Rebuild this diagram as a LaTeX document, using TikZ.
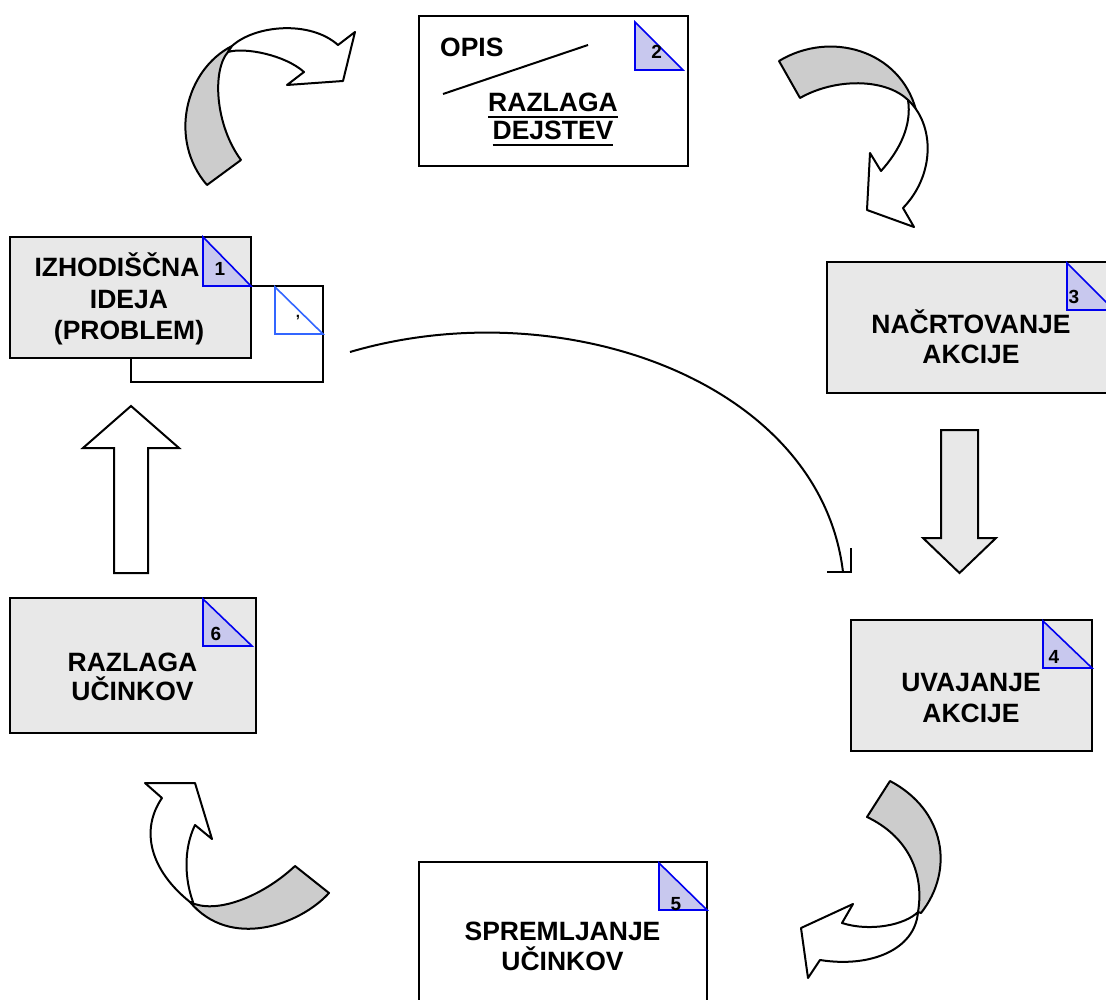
\documentclass[tikz,border=0pt]{standalone}
\usepackage{fontspec}
\setmainfont{Liberation Sans}

\definecolor{boxgrey}{RGB}{232,232,232}
\definecolor{ribbongrey}{RGB}{204,204,204}
\definecolor{flagfill}{RGB}{200,200,238}
\definecolor{flagblue}{RGB}{0,0,240}
\definecolor{pageblue}{RGB}{51,102,255}

\newcommand{\numfont}{\bfseries\fontsize{19}{21}\selectfont}
% underline with a thick rule
\newcommand{\ulbox}[1]{{\setbox0\hbox{#1}\rlap{\rule[-6pt]{\wd0}{2pt}}\box0}}

\begin{document}
\begin{tikzpicture}[x=1pt, y=-1pt,
    box/.style={draw, line width=2.2pt, fill=boxgrey, inner sep=0pt, outer sep=0pt},
    page/.style={box, fill=white},
    flag/.style={draw=flagblue, line width=1.6pt, fill=flagfill},
    lbl/.style={font=\bfseries\fontsize{26.5}{#1}\selectfont, align=center, anchor=base, inner sep=0pt},
    lbl/.default=30,
    num/.style={font=\numfont, inner sep=0pt},
    ribbon/.style={draw, line width=2pt, fill=ribbongrey, line join=round},
    front/.style={draw, line width=2pt, fill=white, line join=round},
    block/.style={draw, line width=2pt, line join=miter},
    link/.style={line width=2pt}
]
\useasboundingbox (0,0) rectangle (1106,1000);
\clip (0,0) rectangle (1106,1000);

% Step 1 with the page behind it
\node[page, minimum width=192pt, minimum height=96pt] (page) at (227,334) {};
\draw[flag, draw=pageblue, fill=white] (page.north east) ++(-48,1) -- ++(0,47) -- ++(48,0) -- cycle;
\node[num, font=\bfseries\fontsize{15}{15}\selectfont] (tick) at (298,318) {,};
\node[box, minimum width=241pt, minimum height=121pt] (izhodisce) at (130.5,297.5) {};
\draw[flag] (izhodisce.north east) ++(-48,0) -- ++(0,49) -- ++(48,0) -- cycle;
\node[num] (n1) at (220,269) {1};
\node[lbl=31.3] (t1) at (129,339.3) {IZHODIŠČNA\rule{24pt}{0pt}\\IDEJA\\(PROBLEM)};

% Step 2
\node[box, fill=white, minimum width=269pt, minimum height=150pt] (opis) at (553.5,91) {};
\draw[flag] (opis.north east) ++(-53,6) -- ++(0,48) -- ++(48,0) -- cycle;
\node[num] (n2) at (656.7,51.7) {2};
\node[lbl, anchor=base west] (t2a) at (440,57) {OPIS};
\draw[link] (443,94) -- (588,45);
\node[lbl=28] (t2b) at (553,140) {\ulbox{RAZLAGA}\\\ulbox{DEJSTEV}};

% Step 3
\node[box, minimum width=288pt, minimum height=131pt] (nacrt) at (971,327.5) {};
\draw[flag] (nacrt.north east) ++(-48,1) -- ++(0,47) -- ++(47,0) -- cycle;
\node[num] (n3) at (1074,296.7) {3};
\node[lbl] (t3) at (971,363) {NAČRTOVANJE\\AKCIJE};

% Step 4
\node[box, minimum width=241pt, minimum height=131pt] (uvajanje) at (971.5,685.5) {};
\draw[flag] (uvajanje.north east) ++(-49,1) -- ++(0,47) -- ++(49,0) -- cycle;
\node[num] (n4) at (1054,656.7) {4};
\node[lbl=31] (t4) at (971,722) {UVAJANJE\\AKCIJE};

% Step 5
\node[box, fill=white, minimum width=288pt, minimum height=148pt] (spremljanje) at (563,936) {};
\draw[flag] (spremljanje.north east) ++(-48,1) -- ++(0,47) -- ++(48,0) -- cycle;
\node[num] (n5) at (676,904) {5};
\node[lbl] (t5) at (562.5,970) {SPREMLJANJE\\UČINKOV};

% Step 6
\node[box, minimum width=246pt, minimum height=135pt] (razlaga) at (133,665.5) {};
\draw[flag] (razlaga.north east) ++(-53,1) -- ++(0,47) -- ++(49,0) -- cycle;
\node[num] (n6) at (216,634) {6};
\node[lbl=29] (t6) at (132.5,700) {RAZLAGA\\UČINKOV};

% Straight block arrows
\draw[block, fill=white] (131,406) -- (179,448) -- (148,448) -- (148,573) -- (114,573) -- (114,448) -- (83,448) -- cycle;
\draw[block, fill=boxgrey] (941,430) -- (978,430) -- (978,538) -- (996,538) -- (959.5,573) -- (923,538) -- (941,538) -- cycle;

% Curved block arrow, top left
\draw[ribbon] (207,185) -- (241,160) .. controls (215,125) and (212,70) .. (228,52) -- (232,46) .. controls (185,70) and (168,140) .. (207,185) -- cycle;
\draw[front] (232,46) .. controls (255,25) and (310,20) .. (338,45) -- (355,32) -- (343,81) -- (287,85) -- (304,72) .. controls (285,55) and (245,47) .. (228,52) -- cycle;

% Curved block arrow, top right
\draw[ribbon] (779,61) -- (800,98) .. controls (835,78) and (885,78) .. (908,100) -- (916,110) .. controls (900,50) and (830,30) .. (779,61) -- cycle;
\draw[front] (908,100) .. controls (935,125) and (935,175) .. (903,208) -- (914,227) -- (867,210) -- (870,153) -- (881,171) .. controls (900,150) and (912,125) .. (908,100) -- cycle;

% Curved block arrow, bottom right
\draw[ribbon] (890,781) -- (867,817) .. controls (905,835) and (925,870) .. (918,912) -- (921,913) .. controls (955,870) and (945,810) .. (890,781) -- cycle;
\draw[front] (918,912) .. controls (915,950) and (870,968) .. (820,960) -- (808,978) -- (801,928) -- (853,904) -- (842,923) .. controls (870,932) and (905,925) .. (918,912) -- cycle;

% Curved block arrow, bottom left
\draw[ribbon] (295,866) -- (329,893) .. controls (300,925) and (230,950) .. (190,902) .. controls (215,915) and (262,897) .. (295,866) -- cycle;
\draw[front] (190,902) .. controls (150,870) and (140,830) .. (162,798) -- (145,783) -- (195,783) -- (212,839) -- (195,825) .. controls (183,850) and (185,880) .. (193,902) -- cycle;

% Long curved line with its hook
\coordinate (lstart) at (350,352);
\coordinate (lend) at (843,572);
\draw[link] (lstart) .. controls (560,290) and (820,380) .. (lend);
\draw[link] (lend) ++(-16,0) -- ++(24,0) -- ++(0,-24);
\end{tikzpicture}
\end{document}
